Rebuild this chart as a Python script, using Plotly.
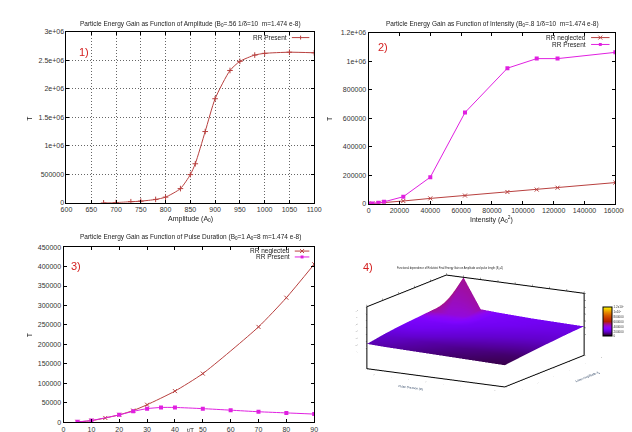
import plotly.graph_objects as go

# ---------------- data ----------------
amp_x = [675, 700, 730, 750, 780, 800, 830, 850, 860, 880, 900, 930, 950, 980, 1000, 1050, 1100]
amp_rr_present = [0, 5000, 20000, 30000, 60000, 100000, 250000, 495000, 685000, 1250000,
                  1825000, 2320000, 2480000, 2590000, 2620000, 2640000, 2630000]

int_x = [0, 2500, 6400, 10000, 22500, 40000, 62500, 90000, 109000, 122500, 160000]
int_rr_neglected = [0, 2000, 6000, 9000, 20000, 38000, 58000, 83000, 100000, 113000, 149000]
int_rr_present = [2000, 3000, 7000, 14000, 50000, 187000, 640000, 951000, 1018000, 1018000, 1062000]

pd_x_neg = [5, 10, 15, 20, 25, 30, 40, 50, 70, 80, 90]
pd_rr_neglected = [1000, 4000, 11000, 19000, 30000, 45000, 80000, 125000, 245000, 320000, 406000]
pd_x_pres = [5, 10, 20, 25, 30, 35, 40, 50, 60, 70, 80, 90]
pd_rr_present = [1000, 4500, 19000, 28000, 35000, 38000, 38000, 35000, 31000, 27000, 24000, 21000]

# 3D surface: rows = laser amplitude, columns = pulse duration
surf_pulse = [10, 20, 30, 40, 50, 60, 70, 80, 90]
surf_amp = [1, 2, 3, 4, 5, 6]
surf_z = [
    [120000, 100000, 90000, 80000, 70000, 60000, 50000, 40000, 30000],
    [200000, 180000, 160000, 140000, 120000, 110000, 100000, 90000, 80000],
    [260000, 240000, 210000, 190000, 170000, 160000, 150000, 140000, 130000],
    [300000, 280000, 260000, 240000, 220000, 200000, 190000, 180000, 170000],
    [340000, 330000, 300000, 280000, 260000, 240000, 230000, 220000, 210000],
    [380000, 1200000, 340000, 310000, 290000, 270000, 260000, 250000, 240000],
]

p1_yticks = [0, 500000, 1000000, 1500000, 2000000, 2500000, 3000000]
p1_ylabels = ["0", "500000", "1e+06", "1.5e+06", "2e+06", "2.5e+06", "3e+06"]
p2_yticks = [0, 200000, 400000, 600000, 800000, 1000000, 1200000]
p2_ylabels = ["0", "200000", "400000", "600000", "800000", "1e+06", "1.2e+06"]
cb_ticks = [0, 200000, 400000, 600000, 800000, 1000000, 1200000]
cb_labels = ["0", "200000", "400000", "600000", "800000", "1x10<sup>6</sup>", "1.2x10<sup>6</sup>"]

RED = "#b8403f"
MAG = "#e020e0"
FONT = "Liberation Sans"
W, H = 632, 432

def px(x):
    return x / W

def py(y):
    return 1 - y / H

# pm3d-like colouring: each vertex coloured by the mean of its neighbourhood
nr, nc = len(surf_z), len(surf_z[0])
surf_col = []
for i in range(nr):
    row = []
    for j in range(nc):
        vals = [surf_z[a][b] for a in range(max(0, i - 1), min(nr, i + 2))
                for b in range(max(0, j - 1), min(nc, j + 2))]
        row.append(sum(vals) / len(vals))
    surf_col.append(row)

fig = go.Figure()

# panel 1
fig.add_trace(go.Scatter(x=amp_x, y=amp_rr_present, mode="lines+markers", xaxis="x", yaxis="y",
                         line=dict(color=RED, width=1, shape="spline", smoothing=0.6),
                         marker=dict(symbol="cross-thin", size=4, line=dict(color=RED, width=1)),
                         showlegend=False))
# panel 2
fig.add_trace(go.Scatter(x=int_x, y=int_rr_neglected, mode="lines+markers", xaxis="x2", yaxis="y2",
                         line=dict(color=RED, width=1),
                         marker=dict(symbol="x-thin", size=4, line=dict(color=RED, width=1)),
                         showlegend=False))
fig.add_trace(go.Scatter(x=int_x, y=int_rr_present, mode="lines+markers", xaxis="x2", yaxis="y2",
                         line=dict(color=MAG, width=1),
                         marker=dict(symbol="square", size=4, color=MAG),
                         showlegend=False))
# panel 3
fig.add_trace(go.Scatter(x=pd_x_neg, y=pd_rr_neglected, mode="lines+markers", xaxis="x3", yaxis="y3",
                         line=dict(color=RED, width=1, shape="spline", smoothing=0.6),
                         marker=dict(symbol="x-thin", size=4, line=dict(color=RED, width=1)),
                         showlegend=False))
fig.add_trace(go.Scatter(x=pd_x_pres, y=pd_rr_present, mode="lines+markers", xaxis="x3", yaxis="y3",
                         line=dict(color=MAG, width=1, shape="spline", smoothing=0.6),
                         marker=dict(symbol="square", size=4, color=MAG),
                         showlegend=False))

# panel 4 (gnuplot default palette 7,5,15)
gp_scale = [[0.0, "rgb(0,0,0)"], [0.05, "rgb(57,0,79)"], [0.1, "rgb(81,0,150)"],
            [0.15, "rgb(99,1,206)"], [0.2, "rgb(114,2,242)"], [0.25, "rgb(128,4,255)"],
            [0.3, "rgb(140,7,243)"], [0.35, "rgb(151,11,206)"], [0.4, "rgb(161,16,150)"],
            [0.45, "rgb(171,23,79)"], [0.5, "rgb(180,32,0)"], [0.6, "rgb(198,55,0)"],
            [0.7, "rgb(213,87,0)"], [0.8, "rgb(228,131,0)"], [0.9, "rgb(242,186,0)"],
            [1.0, "rgb(255,255,0)"]]
fig.add_trace(go.Surface(x=surf_pulse, y=surf_amp, z=surf_z, surfacecolor=surf_col,
                         colorscale=gp_scale, cmin=0, cmax=1200000, scene="scene",
                         lighting=dict(ambient=1.0, diffuse=0.0, specular=0, roughness=1, fresnel=0),
                         colorbar=dict(x=px(596), xanchor="left", y=py(315), yanchor="middle",
                                       len=50 / H, thickness=9, outlinewidth=1, outlinecolor="#000",
                                       tickvals=cb_ticks, ticktext=cb_labels, ticks="",
                                       tickfont=dict(size=3, family=FONT, color="#333"))))

tickfont = dict(size=7, family=FONT, color="#333")

def axstyle(**kw):
    d = dict(showline=True, linecolor="#000", linewidth=1, mirror="ticks", ticks="inside",
             ticklen=3, tickcolor="#000", tickfont=tickfont, zeroline=False, showgrid=False)
    d.update(kw)
    return d

gridkw = dict(showgrid=True, gridcolor="#666", griddash="1px,2px", gridwidth=1)

ax3d = dict(showbackground=False, showgrid=False, showline=True, linecolor="#000", linewidth=2,
            mirror="all", showspikes=False, ticks="outside", ticklen=2, tickcolor="#444",
            tickfont=dict(size=3, family=FONT, color="#333"))

fig.update_layout(
    width=W, height=H, margin=dict(l=0, r=0, t=0, b=0),
    paper_bgcolor="white", plot_bgcolor="white", font=dict(family=FONT),
    xaxis=axstyle(domain=[px(54), px(309)], range=[600, 1100], dtick=50, tick0=600, anchor="y",
                  **gridkw),
    yaxis=axstyle(domain=[py(194), py(20)], range=[0, 3000000], tickvals=p1_yticks,
                  ticktext=p1_ylabels, anchor="x", **gridkw),
    xaxis2=axstyle(domain=[px(365), px(619)], range=[0, 160000], dtick=20000, tick0=0,
                   tickformat="d", anchor="y2"),
    yaxis2=axstyle(domain=[py(195), py(21)], range=[0, 1200000], tickvals=p2_yticks,
                   ticktext=p2_ylabels, anchor="x2"),
    xaxis3=axstyle(domain=[px(51), px(309)], range=[0, 90], dtick=10, tick0=0, anchor="y3"),
    yaxis3=axstyle(domain=[py(417), py(239)], range=[0, 450000], dtick=50000, tick0=0,
                   tickformat="d", anchor="x3"),
    scene=dict(
        domain=dict(x=[px(345), px(605)], y=[py(399), py(249)]),
        camera=dict(eye=dict(x=0.95, y=-1.65, z=0.45), center=dict(x=0, y=0, z=0),
                    projection=dict(type="orthographic")),
        aspectmode="manual", aspectratio=dict(x=2.15, y=2.15, z=0.86),
        xaxis=dict(title=dict(text="Pulse Duration (t/t)", font=dict(size=3, family=FONT)),
                   range=[10, 90], **ax3d),
        yaxis=dict(title=dict(text="Laser Amplitude A<sub>0</sub>", font=dict(size=3, family=FONT)),
                   range=[1, 6], **ax3d),
        zaxis=dict(title=dict(text="Final Energy gain (mc<sup>2</sup>)", font=dict(size=3, family=FONT)),
                   range=[-600000, 1200000], tickvals=cb_ticks, ticktext=cb_labels, **ax3d),
    ),
)

anns = []
shapes = []

def text(x, y, s, size=7, color="#222", xanchor="center", angle=0):
    anns.append(dict(x=px(x), y=py(y), xref="paper", yref="paper", text=s, showarrow=False,
                     font=dict(size=size, family=FONT, color=color), xanchor=xanchor,
                     yanchor="middle", textangle=angle))

# titles
text(182, 12, "Particle Energy Gain as Function of Amplitude (B<sub>0</sub>=.56 1/δ=10  m=1.474 e-8)", 6.5)
text(493, 12, "Particle Energy Gain as Function of Intensity (B<sub>0</sub>=.8 1/δ=10  m=1.474 e-8)", 6.5)
text(182, 229, "Particle Energy Gain as Function of Pulse Duration (B<sub>0</sub>=1 A<sub>0</sub>=8 m=1.474 e-8)", 6.5)
text(449, 260, "Functional dependence of Relativist Final Energy Gain on Amplitude and pulse length (B<sub>0</sub>=1)", 2.6)
# axis titles
text(182, 210, "Amplitude (A<sub>0</sub>)", 7)
text(492, 211, "Intensity (A<sub>0</sub><sup>2</sup>)", 7)
text(182, 425, "t/T", 6)
text(16, 108, "T", 7, angle=-90)
text(325, 108, "T", 7, angle=-90)
text(16, 328, "T", 7, angle=-90)
# panel labels
text(72, 41, "1)", 11, "#d42020")
text(380, 36, "2)", 11, "#d42020")
text(64, 258, "3)", 11, "#d42020")
text(364, 259, "4)", 11, "#d42020")

def legend_entry(x_text_end, y, label, color, marker, x0, x1):
    text(x_text_end, y, label, 6.5, "#222", xanchor="right")
    yy = py(y)
    shapes.append(dict(type="line", xref="paper", yref="paper", x0=px(x0), x1=px(x1), y0=yy, y1=yy,
                       line=dict(color=color, width=1)))
    cx = (x0 + x1) / 2
    if marker == "plus":
        shapes.append(dict(type="line", xref="paper", yref="paper", x0=px(cx), x1=px(cx),
                           y0=py(y - 2), y1=py(y + 2), line=dict(color=color, width=1)))
    elif marker == "x":
        shapes.append(dict(type="line", xref="paper", yref="paper", x0=px(cx - 2), x1=px(cx + 2),
                           y0=py(y - 2), y1=py(y + 2), line=dict(color=color, width=1)))
        shapes.append(dict(type="line", xref="paper", yref="paper", x0=px(cx - 2), x1=px(cx + 2),
                           y0=py(y + 2), y1=py(y - 2), line=dict(color=color, width=1)))
    else:
        shapes.append(dict(type="rect", xref="paper", yref="paper", x0=px(cx - 1.5), x1=px(cx + 1.5),
                           y0=py(y + 1.5), y1=py(y - 1.5), fillcolor=color, line=dict(width=0)))

legend_entry(283, 26, "RR Present", RED, "plus", 286, 304)
legend_entry(591, 26, "RR neglected", RED, "x", 594, 613)
legend_entry(591, 33, "RR Present", MAG, "sq", 594, 613)
legend_entry(286, 243, "RR neglected", RED, "x", 289, 304)
legend_entry(286, 249, "RR Present", MAG, "sq", 289, 304)

fig.update_layout(annotations=anns, shapes=shapes)
fig.write_html("out.html")
